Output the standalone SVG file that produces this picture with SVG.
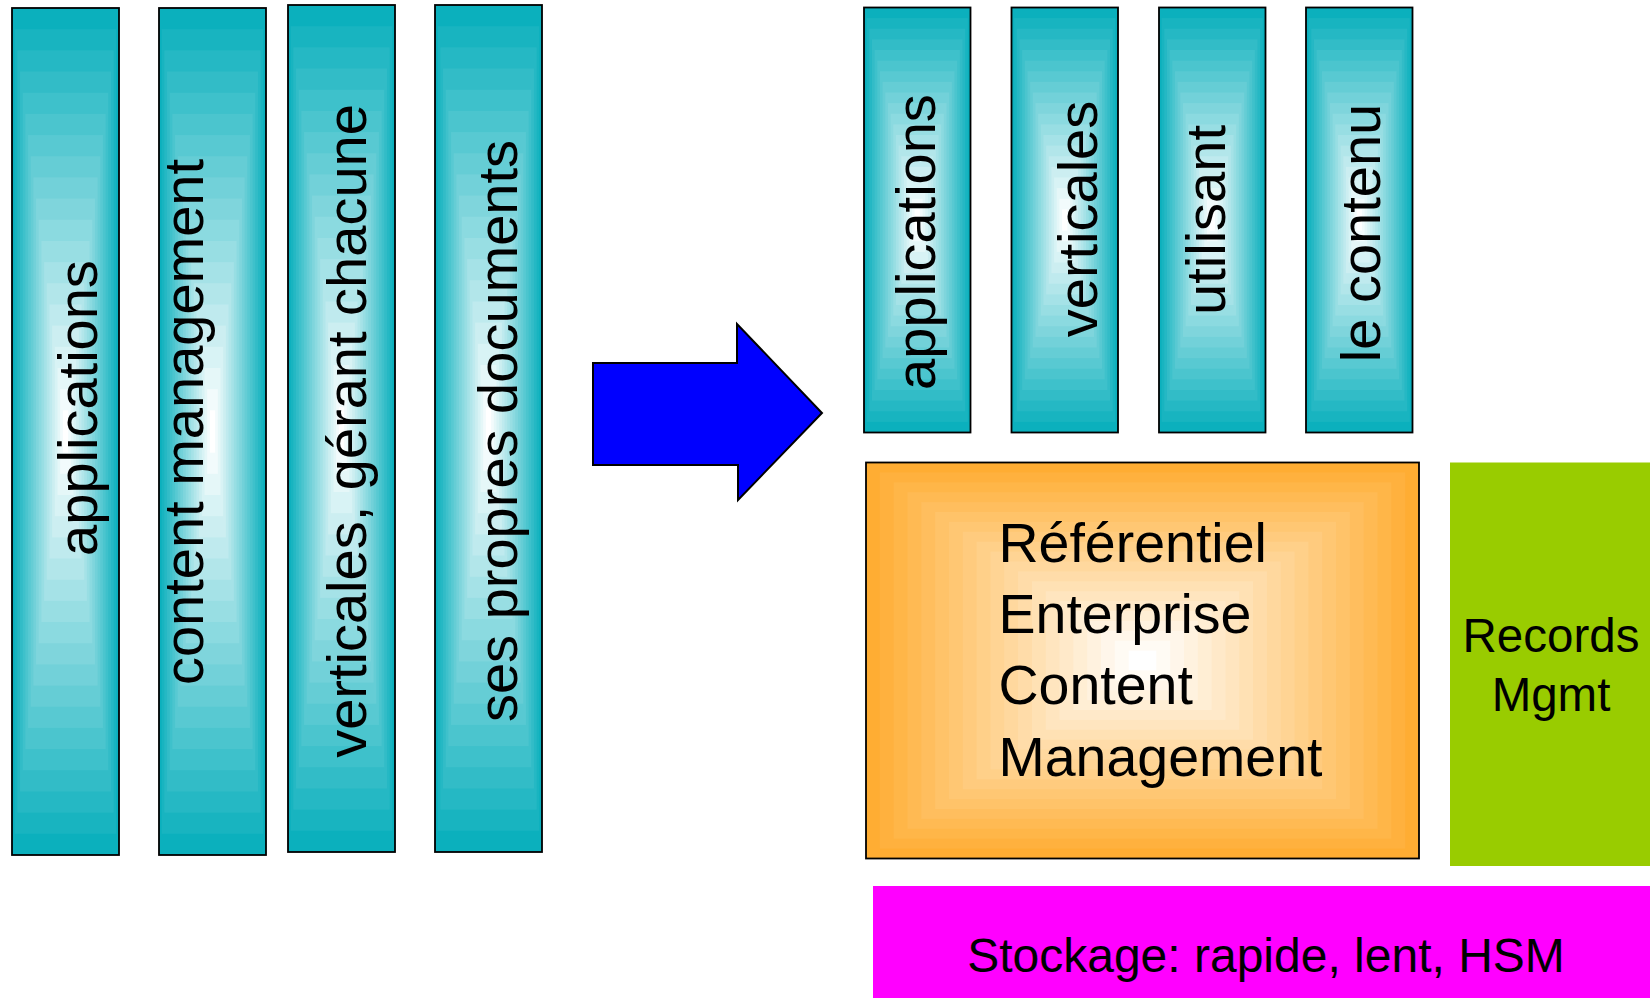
<svg xmlns="http://www.w3.org/2000/svg" xmlns:xlink="http://www.w3.org/1999/xlink" width="1650" height="998" viewBox="0 0 1650 998">
<style>
.t{font-family:"Liberation Sans",Arial,sans-serif;fill:#000;}
.v{font-size:56px;text-anchor:middle;}
.frame{fill:none;stroke:#000;stroke-width:1.8;}
</style>
<defs>
<symbol id="teal" viewBox="0 0 100 100" preserveAspectRatio="none">
<rect x="0" y="0" width="100" height="100" fill="#0BB0BD"/>
<rect x="2.5" y="2.5" width="95" height="95" fill="#18B4C0"/>
<rect x="5" y="5" width="90" height="90" fill="#25B8C4"/>
<rect x="7.5" y="7.5" width="85" height="85" fill="#32BCC7"/>
<rect x="10" y="10" width="80" height="80" fill="#3EC1CB"/>
<rect x="12.5" y="12.5" width="75" height="75" fill="#4BC5CE"/>
<rect x="15" y="15" width="70" height="70" fill="#58C9D2"/>
<rect x="17.5" y="17.5" width="65" height="65" fill="#65CDD5"/>
<rect x="20" y="20" width="60" height="60" fill="#72D1D9"/>
<rect x="22.5" y="22.5" width="55" height="55" fill="#7FD5DC"/>
<rect x="25" y="25" width="50" height="50" fill="#8BDAE0"/>
<rect x="27.5" y="27.5" width="45" height="45" fill="#98DEE3"/>
<rect x="30" y="30" width="40" height="40" fill="#A5E2E7"/>
<rect x="32.5" y="32.5" width="35" height="35" fill="#B2E6EA"/>
<rect x="35" y="35" width="30" height="30" fill="#BFEAEE"/>
<rect x="37.5" y="37.5" width="25" height="25" fill="#CCEEF1"/>
<rect x="40" y="40" width="20" height="20" fill="#D8F3F5"/>
<rect x="42.5" y="42.5" width="15" height="15" fill="#E5F7F8"/>
<rect x="45" y="45" width="10" height="10" fill="#F2FBFC"/>
<rect x="47.5" y="47.5" width="5" height="5" fill="#FFFFFF"/>
</symbol>
<symbol id="orange" viewBox="0 0 100 100" preserveAspectRatio="none">
<rect x="0" y="0" width="100" height="100" fill="#FFAD33"/>
<rect x="2.5" y="2.5" width="95" height="95" fill="#FFB13E"/>
<rect x="5" y="5" width="90" height="90" fill="#FFB648"/>
<rect x="7.5" y="7.5" width="85" height="85" fill="#FFBA53"/>
<rect x="10" y="10" width="80" height="80" fill="#FFBE5E"/>
<rect x="12.5" y="12.5" width="75" height="75" fill="#FFC369"/>
<rect x="15" y="15" width="70" height="70" fill="#FFC773"/>
<rect x="17.5" y="17.5" width="65" height="65" fill="#FFCB7E"/>
<rect x="20" y="20" width="60" height="60" fill="#FFD089"/>
<rect x="22.5" y="22.5" width="55" height="55" fill="#FFD494"/>
<rect x="25" y="25" width="50" height="50" fill="#FFD89E"/>
<rect x="27.5" y="27.5" width="45" height="45" fill="#FFDCA9"/>
<rect x="30" y="30" width="40" height="40" fill="#FFE1B4"/>
<rect x="32.5" y="32.5" width="35" height="35" fill="#FFE5BF"/>
<rect x="35" y="35" width="30" height="30" fill="#FFE9C9"/>
<rect x="37.5" y="37.5" width="25" height="25" fill="#FFEED4"/>
<rect x="40" y="40" width="20" height="20" fill="#FFF2DF"/>
<rect x="42.5" y="42.5" width="15" height="15" fill="#FFF6EA"/>
<rect x="45" y="45" width="10" height="10" fill="#FFFBF4"/>
<rect x="47.5" y="47.5" width="5" height="5" fill="#FFFFFF"/>
</symbol>
</defs>
<rect x="0" y="0" width="1650" height="998" fill="#FFFFFF"/>

<g id="old-app-1">
<use xlink:href="#teal" x="12" y="8" width="107" height="847"/>
<rect class="frame" x="12" y="8" width="107" height="847"/>
<text class="t v" transform="translate(96.7,408) rotate(-90)">applications</text>
</g>
<g id="old-app-2">
<use xlink:href="#teal" x="159" y="8" width="107" height="847"/>
<rect class="frame" x="159" y="8" width="107" height="847"/>
<text class="t v" transform="translate(203,422) rotate(-90)">content management</text>
</g>
<g id="old-app-3">
<use xlink:href="#teal" x="288" y="5" width="107" height="847"/>
<rect class="frame" x="288" y="5" width="107" height="847"/>
<text class="t v" transform="translate(366,431) rotate(-90)">verticales, gérant chacune</text>
</g>
<g id="old-app-4">
<use xlink:href="#teal" x="435" y="5" width="107" height="847"/>
<rect class="frame" x="435" y="5" width="107" height="847"/>
<text class="t v" transform="translate(517,431) rotate(-90)">ses propres documents</text>
</g>

<g id="connectors">
<polygon points="593,363 737,363 737,324 822,413 738,500 738,465 593,465" fill="#0000FF" stroke="#000" stroke-width="2" stroke-linejoin="miter"/>
</g>

<g id="new-app-1">
<use xlink:href="#teal" x="864" y="7.5" width="106.5" height="425"/>
<rect class="frame" x="864" y="7.5" width="106.5" height="425"/>
<text class="t v" transform="translate(935,242) rotate(-90)">applications</text>
</g>
<g id="new-app-2">
<use xlink:href="#teal" x="1011.5" y="7.5" width="106.5" height="425"/>
<rect class="frame" x="1011.5" y="7.5" width="106.5" height="425"/>
<text class="t v" transform="translate(1096.7,219) rotate(-90)">verticales</text>
</g>
<g id="new-app-3">
<use xlink:href="#teal" x="1159" y="7.5" width="106.5" height="425"/>
<rect class="frame" x="1159" y="7.5" width="106.5" height="425"/>
<text class="t v" transform="translate(1225,220) rotate(-90)">utilisant</text>
</g>
<g id="new-app-4">
<use xlink:href="#teal" x="1306" y="7.5" width="106.5" height="425"/>
<rect class="frame" x="1306" y="7.5" width="106.5" height="425"/>
<text class="t v" transform="translate(1380,233) rotate(-90)">le contenu</text>
</g>

<g id="ecm">
<use xlink:href="#orange" x="866" y="462.5" width="553" height="396"/>
<rect class="frame" x="866" y="462.5" width="553" height="396"/>
<text class="t" font-size="55.5" x="998.5" y="561.5">Référentiel</text>
<text class="t" font-size="55.5" x="998.5" y="632.5">Enterprise</text>
<text class="t" font-size="55.5" x="998.5" y="703.5">Content</text>
<text class="t" font-size="55.5" x="998.5" y="775.5">Management</text>
</g>

<g id="records">
<rect x="1450" y="462.5" width="200" height="403.5" fill="#99CC00"/>
<text class="t" font-size="47.5" text-anchor="middle" x="1551" y="652">Records</text>
<text class="t" font-size="47.5" text-anchor="middle" x="1551" y="711">Mgmt</text>
</g>

<g id="stockage">
<rect x="873" y="886" width="777" height="112" fill="#FF00FF"/>
<text class="t" font-size="48" text-anchor="middle" x="1266" y="972">Stockage: rapide, lent, HSM</text>
</g>
</svg>
